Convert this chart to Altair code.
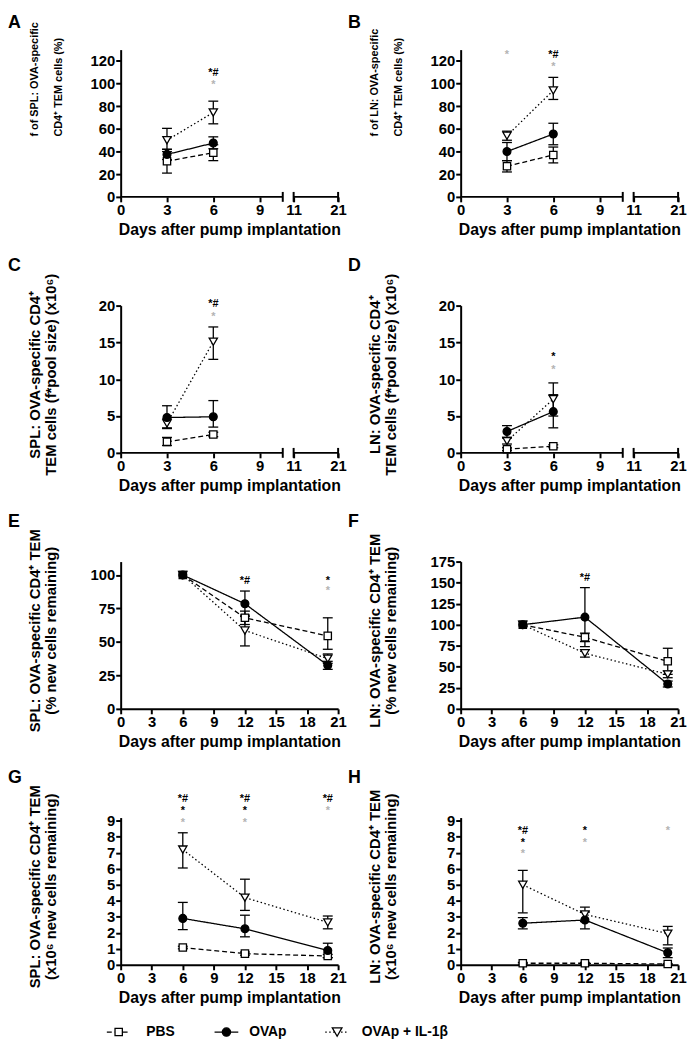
import altair as alt
import pandas as pd

FONT = "Liberation Sans"
GROUPS = ["PBS", "OVAp", "OVAp + IL-1β"]
GRAY = "#b3b3b3"
BLACK = "black"

DAYS_EARLY = [3, 6]
DAYS_LATE = [6, 12, 20]

# ---------------- Panel A: f of SPL (%) ----------------
A_pbs_m = [31.5, 39]
A_pbs_lo = [21, 32]
A_pbs_hi = [42, 46]
A_ova_m = [37.5, 47.5]
A_ova_lo = [33, 42.5]
A_ova_hi = [42, 53]
A_il_m = [50, 74.5]
A_il_lo = [40, 64.5]
A_il_hi = [60.5, 84.5]
A_star_x = [6, 6]
A_star_y = [101, 112]
A_star_t = ["*", "*#"]
A_star_c = [GRAY, BLACK]

# ---------------- Panel B: f of LN (%) ----------------
B_pbs_m = [27, 37]
B_pbs_lo = [22, 30]
B_pbs_hi = [32, 44]
B_ova_m = [40, 55.5]
B_ova_lo = [32, 46]
B_ova_hi = [48, 65]
B_il_m = [54, 94]
B_il_lo = [50, 86]
B_il_hi = [58, 105.5]
B_star_x = [3, 6, 6]
B_star_y = [128, 128, 117]
B_star_t = ["*", "*#", "*"]
B_star_c = [GRAY, BLACK, GRAY]

# ---------------- Panel C: SPL pool size ----------------
C_pbs_m = [1.5, 2.5]
C_pbs_lo = [1.0, 2.2]
C_pbs_hi = [2.1, 2.8]
C_ova_m = [4.8, 4.9]
C_ova_lo = [3.3, 3.5]
C_ova_hi = [6.4, 7.1]
C_il_m = [4.0, 15.1]
C_il_lo = [3.4, 12.7]
C_il_hi = [4.6, 17.1]
C_star_x = [6, 6]
C_star_y = [18.8, 20.6]
C_star_t = ["*", "*#"]
C_star_c = [GRAY, BLACK]

# ---------------- Panel D: LN pool size ----------------
D_pbs_m = [0.5, 0.9]
D_pbs_lo = [0.3, 0.7]
D_pbs_hi = [0.7, 1.1]
D_ova_m = [2.9, 5.6]
D_ova_lo = [2.1, 3.4]
D_ova_hi = [3.7, 7.9]
D_il_m = [1.6, 7.3]
D_il_lo = [1.2, 5.0]
D_il_hi = [2.0, 9.5]
D_star_x = [6, 6]
D_star_y = [11.7, 13.4]
D_star_t = ["*", "*"]
D_star_c = [GRAY, BLACK]

# ---------------- Panel E: SPL % remaining ----------------
E_pbs_m = [100, 68, 54.5]
E_pbs_lo = [100, 63, 44.5]
E_pbs_hi = [100, 73, 68]
E_ova_m = [100, 78.5, 32.5]
E_ova_lo = [100, 69, 29.5]
E_ova_hi = [100, 88, 35.5]
E_il_m = [100, 58.5, 37.5]
E_il_lo = [100, 47, 34]
E_il_hi = [100, 70, 41]
E_star_x = [12, 20, 20]
E_star_y = [98, 98, 90]
E_star_t = ["*#", "*", "*"]
E_star_c = [BLACK, BLACK, GRAY]

# ---------------- Panel F: LN % remaining ----------------
F_pbs_m = [100, 85, 56.5]
F_pbs_lo = [100, 80, 41]
F_pbs_hi = [100, 90, 72]
F_ova_m = [100, 109, 29.5]
F_ova_lo = [100, 74, 26]
F_ova_hi = [100, 144, 33]
F_il_m = [100, 66, 41]
F_il_lo = [100, 61.5, 37]
F_il_hi = [100, 70.5, 45]
F_star_x = [12]
F_star_y = [159]
F_star_t = ["*#"]
F_star_c = [BLACK]

# ---------------- Panel G: SPL x10^6 remaining ----------------
G_pbs_m = [1.08, 0.7, 0.55]
G_pbs_lo = [1.0, 0.6, 0.45]
G_pbs_hi = [1.16, 0.8, 0.65]
G_ova_m = [2.9, 2.25, 0.9]
G_ova_lo = [2.2, 1.75, 0.45]
G_ova_hi = [3.9, 3.1, 1.35]
G_il_m = [7.2, 4.2, 2.65]
G_il_lo = [6.05, 3.4, 2.25]
G_il_hi = [8.25, 5.35, 3.05]
G_star_x = [6, 6, 6, 12, 12, 12, 20, 20]
G_star_y = [9.05, 9.8, 10.55, 9.05, 9.8, 10.55, 9.8, 10.55]
G_star_t = ["*", "*", "*#", "*", "*", "*#", "*", "*#"]
G_star_c = [GRAY, BLACK, BLACK, GRAY, BLACK, BLACK, GRAY, BLACK]

# ---------------- Panel H: LN x10^6 remaining ----------------
H_pbs_m = [0.1, 0.1, 0.05]
H_pbs_lo = [0.05, 0.05, 0.02]
H_pbs_hi = [0.15, 0.15, 0.08]
H_ova_m = [2.6, 2.8, 0.75]
H_ova_lo = [2.25, 2.25, 0.45]
H_ova_hi = [2.95, 3.3, 1.05]
H_il_m = [5.0, 3.15, 1.95]
H_il_lo = [3.25, 2.7, 1.25]
H_il_hi = [5.9, 3.6, 2.4]
H_star_x = [6, 6, 6, 12, 12, 20]
H_star_y = [7.1, 7.8, 8.55, 7.8, 8.55, 8.55]
H_star_t = ["*", "*", "*#", "*", "*", "*"]
H_star_c = [GRAY, BLACK, BLACK, GRAY, BLACK, GRAY]

XTITLE = "Days after pump implantation"
TITLE_A = ["f of SPL: OVA-specific", "CD4⁺ TEM cells (%)"]
TITLE_B = ["f of LN: OVA-specific", "CD4⁺ TEM cells (%)"]
TITLE_C = ["SPL: OVA-specific CD4⁺", "TEM cells (f*pool size) (x10⁶)"]
TITLE_D = ["LN: OVA-specific CD4⁺", "TEM cells (f*pool size) (x10⁶)"]
TITLE_E = ["SPL: OVA-specific CD4⁺ TEM", "(% new cells remaining)"]
TITLE_F = ["LN: OVA-specific CD4⁺ TEM", "(% new cells remaining)"]
TITLE_G = ["SPL: OVA-specific CD4⁺ TEM", "(x10⁶ new cells remaining)"]
TITLE_H = ["LN: OVA-specific CD4⁺ TEM", "(x10⁶ new cells remaining)"]

# ---------------- styles ----------------
DASHES = [[5, 3], [1, 0], [1.5, 2.5]]
SHAPES = ["square", "circle", "triangle-down"]
FILLS = ["white", "black", "white"]
SIZES = [55, 70, 95]
ZORDER = [0, 2, 1]          # OVAp markers drawn on top
W = 220
HGT = 149
LW = 1.3
# y-title placement: (font size, line x offsets, y anchor, align)
TSTYLE_SMALL = (11, [-87, -62], 88, "left")
TSTYLE_BIG = (15, [-87, -70], 70, "center")


def long_df(days, series):
    rows = []
    for g, z, (m, lo, hi) in zip(GROUPS, ZORDER, series):
        for d, mv, l, h in zip(days, m, lo, hi):
            rows.append({"day": d, "group": g, "z": z, "mean": mv, "lo": l, "hi": h})
    return pd.DataFrame(rows)


def panel(letter, days, series, stars, ydom, yticks, ytitle, tstyle, broken, letter_y,
          legend=False):
    df = long_df(days, series)
    sdf = pd.DataFrame({"sx": stars[0], "sy": stars[1], "st": stars[2], "sc": stars[3]})

    if broken:
        xscale = alt.Scale(domain=[0, 10.5, 11, 21], range=[0, 164, 175, W],
                           nice=False, zero=False)
        xaxis = alt.Axis(values=[0, 3, 6, 9, 11, 21], domain=False, title=XTITLE,
                         labelFontSize=15, titleFontSize=16, labelPadding=1,
                         labelOverlap=False, labelFlush=False)
    else:
        xscale = alt.Scale(domain=[0, 21], nice=False, zero=False)
        xaxis = alt.Axis(values=list(range(0, 22, 3)), title=XTITLE,
                         labelFontSize=15, titleFontSize=16, labelPadding=1,
                         labelOverlap=False, labelFlush=False)
    yscale = alt.Scale(domain=ydom, nice=False, zero=False)
    yaxis = alt.Axis(values=yticks, title=None, labelFontSize=15,
                     labelPadding=1, labelOverlap=False, labelFlush=False)

    def X(f):
        return alt.X(f, type="quantitative", scale=xscale, axis=xaxis)

    def Y(f):
        return alt.Y(f, type="quantitative", scale=yscale, axis=yaxis)

    grp_dash = alt.StrokeDash("group:N", scale=alt.Scale(domain=GROUPS, range=DASHES), legend=None)
    grp_shape = alt.Shape("group:N", scale=alt.Scale(domain=GROUPS, range=SHAPES), legend=None)
    grp_fill = alt.Fill("group:N", scale=alt.Scale(domain=GROUPS, range=FILLS), legend=None)
    grp_size = alt.Size("group:O", scale=alt.Scale(domain=GROUPS, range=SIZES), legend=None)

    base = alt.Chart(df)
    lines = base.mark_line(color="black", strokeWidth=LW).encode(
        x=X("day"), y=Y("mean"), strokeDash=grp_dash, detail="group:N")
    err = base.transform_filter("datum.hi > datum.lo").mark_rule(
        color="black", strokeWidth=LW).encode(x=X("day"), y=Y("lo"), y2="hi:Q")
    caps = base.transform_filter("datum.hi > datum.lo").transform_fold(
        ["lo", "hi"], as_=["k", "v"]).mark_tick(
        orient="horizontal", size=10, thickness=LW, color="black", opacity=1).encode(
        x=X("day"), y=Y("v"))
    pts = base.mark_point(filled=True, stroke="black", strokeWidth=LW, opacity=1).encode(
        x=X("day"), y=Y("mean"), shape=grp_shape, fill=grp_fill, size=grp_size,
        order=alt.Order("z:Q"))
    star = alt.Chart(sdf).mark_text(font=FONT, fontSize=11, fontWeight="bold",
                                    baseline="middle", dy=3).encode(
        x=X("sx"), y=Y("sy"), text="st:N", color=alt.Color("sc:N", scale=None))
    lab = alt.Chart(pd.DataFrame({"t": [letter]})).mark_text(
        font=FONT, fontSize=18, fontWeight="bold", align="left", baseline="middle").encode(
        x=alt.value(-114), y=alt.value(letter_y), text="t:N")

    layers = [lines, err, caps, pts, star, lab]

    t_fs, t_x, t_y, t_align = tstyle
    for i, line in enumerate(ytitle):
        layers.append(alt.Chart(pd.DataFrame({"t": [line]})).mark_text(
            font=FONT, fontSize=t_fs, fontWeight="bold", angle=270, align=t_align,
            baseline="middle").encode(
            x=alt.value(t_x[i]), y=alt.value(t_y), text="t:N"))

    if broken:
        seg = pd.DataFrame({"a": [0, 11], "b": [10.5, 21]})
        brk = pd.DataFrame({"bx": [10.5, 11, 21]})
        layers.append(alt.Chart(seg).mark_rule(color="black", strokeWidth=2).encode(
            x=X("a"), x2="b:Q", y=alt.value(HGT)))
        layers.append(alt.Chart(brk).mark_rule(color="black", strokeWidth=2).encode(
            x=X("bx"), y=alt.value(HGT - 5), y2=alt.value(HGT + 5)))

    if legend:
        LEG_Y = HGT + 68
        LEG_CX = [-2, 107, 219]
        LEG_TX = [26, 130, 244]
        for i, g in enumerate(GROUPS):
            one = pd.DataFrame({"label": [g]})
            layers.append(alt.Chart(one).mark_rule(
                color="black", strokeWidth=LW, strokeDash=DASHES[i]).encode(
                x=alt.value(LEG_CX[i] - 12), x2=alt.value(LEG_CX[i] + 12), y=alt.value(LEG_Y)))
            layers.append(alt.Chart(one).mark_point(
                shape=SHAPES[i], size=SIZES[i], filled=True, fill=FILLS[i],
                stroke="black", strokeWidth=LW, opacity=1).encode(
                x=alt.value(LEG_CX[i]), y=alt.value(LEG_Y)))
            layers.append(alt.Chart(one).mark_text(
                font=FONT, fontSize=14, fontWeight="bold", align="left",
                baseline="middle").encode(
                x=alt.value(LEG_TX[i]), y=alt.value(LEG_Y), text="label:N"))

    return alt.layer(*layers).properties(width=W, height=HGT)


pA = panel("A", DAYS_EARLY, [(A_pbs_m, A_pbs_lo, A_pbs_hi), (A_ova_m, A_ova_lo, A_ova_hi),
                             (A_il_m, A_il_lo, A_il_hi)],
           (A_star_x, A_star_y, A_star_t, A_star_c), [0, 130], list(range(0, 121, 20)),
           TITLE_A, TSTYLE_SMALL, True, -27)
pB = panel("B", DAYS_EARLY, [(B_pbs_m, B_pbs_lo, B_pbs_hi), (B_ova_m, B_ova_lo, B_ova_hi),
                             (B_il_m, B_il_lo, B_il_hi)],
           (B_star_x, B_star_y, B_star_t, B_star_c), [0, 130], list(range(0, 121, 20)),
           TITLE_B, TSTYLE_SMALL, True, -27)
pC = panel("C", DAYS_EARLY, [(C_pbs_m, C_pbs_lo, C_pbs_hi), (C_ova_m, C_ova_lo, C_ova_hi),
                             (C_il_m, C_il_lo, C_il_hi)],
           (C_star_x, C_star_y, C_star_t, C_star_c), [0, 20], [0, 5, 10, 15, 20],
           TITLE_C, TSTYLE_BIG, True, -40)
pD = panel("D", DAYS_EARLY, [(D_pbs_m, D_pbs_lo, D_pbs_hi), (D_ova_m, D_ova_lo, D_ova_hi),
                             (D_il_m, D_il_lo, D_il_hi)],
           (D_star_x, D_star_y, D_star_t, D_star_c), [0, 20], [0, 5, 10, 15, 20],
           TITLE_D, TSTYLE_BIG, True, -40)
pE = panel("E", DAYS_LATE, [(E_pbs_m, E_pbs_lo, E_pbs_hi), (E_ova_m, E_ova_lo, E_ova_hi),
                            (E_il_m, E_il_lo, E_il_hi)],
           (E_star_x, E_star_y, E_star_t, E_star_c), [0, 110], [0, 25, 50, 75, 100],
           TITLE_E, TSTYLE_BIG, False, -40)
pF = panel("F", DAYS_LATE, [(F_pbs_m, F_pbs_lo, F_pbs_hi), (F_ova_m, F_ova_lo, F_ova_hi),
                            (F_il_m, F_il_lo, F_il_hi)],
           (F_star_x, F_star_y, F_star_t, F_star_c), [0, 175], list(range(0, 176, 25)),
           TITLE_F, TSTYLE_BIG, False, -40)
pG = panel("G", DAYS_LATE, [(G_pbs_m, G_pbs_lo, G_pbs_hi), (G_ova_m, G_ova_lo, G_ova_hi),
                            (G_il_m, G_il_lo, G_il_hi)],
           (G_star_x, G_star_y, G_star_t, G_star_c), [0, 9.2], list(range(0, 10)),
           TITLE_G, TSTYLE_BIG, False, -40, legend=True)
pH = panel("H", DAYS_LATE, [(H_pbs_m, H_pbs_lo, H_pbs_hi), (H_ova_m, H_ova_lo, H_ova_hi),
                            (H_il_m, H_il_lo, H_il_hi)],
           (H_star_x, H_star_y, H_star_t, H_star_c), [0, 9.2], list(range(0, 10)),
           TITLE_H, TSTYLE_BIG, False, -40)

chart = alt.concat(pA, pB, pC, pD, pE, pF, pG, pH, columns=2,
                   spacing={"row": 110, "column": 124}, bounds="flush").properties(
    padding=0
).configure_view(stroke=None).configure_axis(
    domainColor="black", tickColor="black", labelColor="black", titleColor="black",
    grid=False, labelFont=FONT, titleFont=FONT, labelFontWeight="bold",
    titleFontWeight="bold", domainWidth=2, tickWidth=2, tickSize=5
)

chart.save("out.html", embed_options={"renderer": "svg", "actions": False})
